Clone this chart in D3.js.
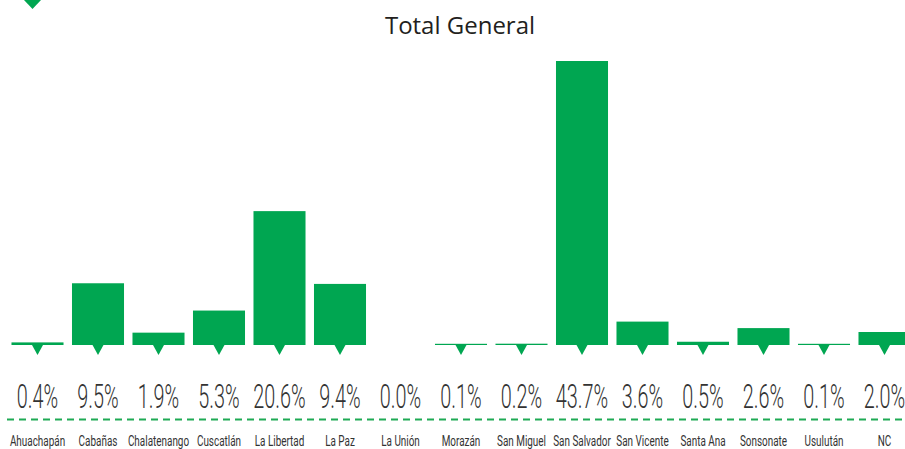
<!DOCTYPE html>
<html>
<head>
<meta charset="utf-8">
<script src="https://cdn.jsdelivr.net/npm/d3@7"></script>
<style>
  html, body { margin: 0; padding: 0; background: #fff; }
  svg { display: block; }
</style>
</head>
<body>
<svg id="chart" width="905" height="449"></svg>
<script>
const categories = ["Ahuachapán","Cabañas","Chalatenango","Cuscatlán","La Libertad","La Paz","La Unión","Morazán","San Miguel","San Salvador","San Vicente","Santa Ana","Sonsonate","Usulután","NC"];
const values = [0.4, 9.5, 1.9, 5.3, 20.6, 9.4, 0.0, 0.1, 0.2, 43.7, 3.6, 0.5, 2.6, 0.1, 2.0];
const labels = ["0.4%","9.5%","1.9%","5.3%","20.6%","9.4%","0.0%","0.1%","0.2%","43.7%","3.6%","0.5%","2.6%","0.1%","2.0%"];
const title = "Total General";

const green = "#00a651";
const svg = d3.select("#chart");

const x = d3.scaleBand().domain(categories).range([7.25, 914.75]).paddingInner(0.14).paddingOuter(0.07);
const y = d3.scaleLinear().domain([0, 43.7]).range([345, 61]);

// corner marker
svg.append("path").attr("d", "M24,0 L41,0 L32.5,9 Z").attr("fill", green);

svg.append("text")
  .attr("x", 460).attr("y", 34)
  .attr("text-anchor", "middle")
  .attr("font-family", "Open Sans, sans-serif")
  .attr("font-size", 24)
  .attr("fill", "#231f20")
  .text(title);

const g = svg.append("g");
const data = categories.map((c, i) => ({c, v: values[i], l: labels[i]}));

g.selectAll("rect.bar").data(data.filter(d => d.v > 0)).join("rect")
  .attr("class", "bar")
  .attr("x", d => x(d.c))
  .attr("width", x.bandwidth())
  .attr("y", d => Math.min(y(d.v), y(0) - 1.2))
  .attr("height", d => Math.max(y(0) - y(d.v), 1.2))
  .attr("fill", green);

g.selectAll("path.tri").data(data.filter(d => d.v > 0)).join("path")
  .attr("class", "tri")
  .attr("d", d => {
    const cx = x(d.c) + x.bandwidth() / 2;
    const b = y(0);
    return `M${cx - 5.5},${b} L${cx + 5.5},${b} L${cx},${b + 10} Z`;
  })
  .attr("fill", green);

g.selectAll("text.pct").data(data).join("text")
  .attr("class", "pct")
  .attr("transform", d => `translate(${x(d.c) + x.bandwidth() / 2},407.5) scale(0.6,1)`)
  .attr("text-anchor", "middle")
  .attr("font-family", "Roboto, sans-serif")
  .attr("font-weight", 300)
  .attr("font-size", 33)
  .attr("fill", "#333333")
  .text(d => d.l);

svg.append("line")
  .attr("x1", 7).attr("x2", 905)
  .attr("y1", 419.5).attr("y2", 419.5)
  .attr("stroke", "#1faa55")
  .attr("stroke-width", 2)
  .attr("stroke-dasharray", "7,5");

g.selectAll("text.cat").data(data).join("text")
  .attr("class", "cat")
  .attr("transform", d => `translate(${x(d.c) + x.bandwidth() / 2},445.5) scale(0.64,1)`)
  .attr("text-anchor", "middle")
  .attr("font-family", "Roboto, sans-serif")
  .attr("font-size", 15.5)
  .attr("fill", "#333333")
  .text(d => d.c);
</script>
</body>
</html>
